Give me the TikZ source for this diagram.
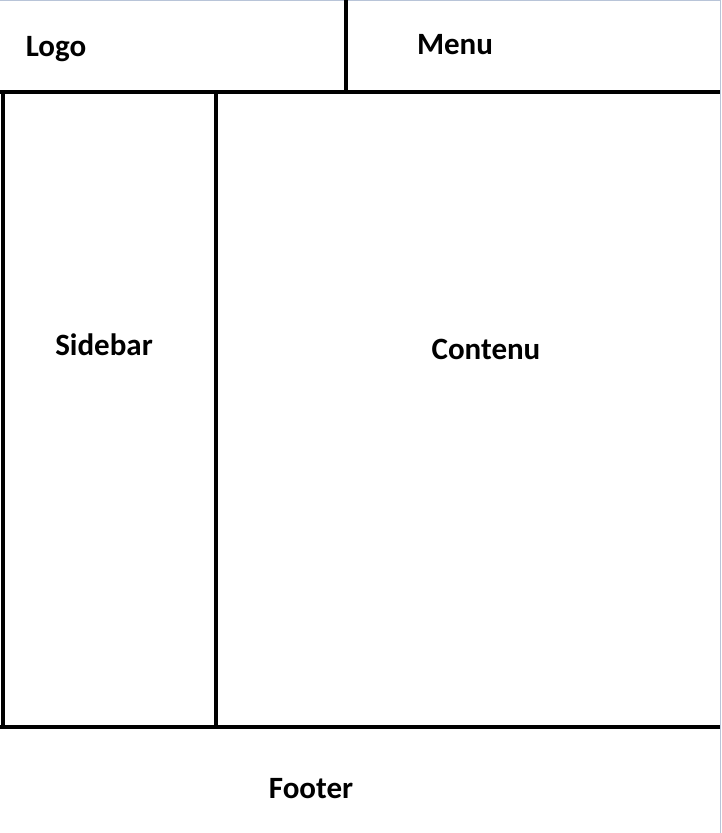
\documentclass[tikz,border=0pt]{standalone}
\usepackage{fontspec}
\setmainfont{Carlito}
\definecolor{framecol}{HTML}{B8C4D8}

\begin{document}
\begin{tikzpicture}[x=1pt, y=-1pt, thick, bar/.style={line width=4.6pt, draw=black}, edge/.style={line width=1.2pt, draw=framecol}, zone label/.style={font=\fontsize{31}{38}\selectfont\bfseries, inner sep=0pt, anchor=base}]
	\useasboundingbox (0,0) rectangle (721,833);
	\fill[white] (0,0) rectangle (721,833);
	\draw[edge] (0,0.6) -- (720.4,0.6) -- (720.4,833);
	\node[zone label] (logo) at (56,56) {Logo};
	\node[zone label] (menu) at (455,54.5) {Menu};
	\node[zone label] (sidebar) at (104,355) {Sidebar};
	\node[zone label] (contenu) at (486,359) {Contenu};
	\node[zone label] (footer) at (311,798.5) {Footer};
	\draw[bar] (346,0) -- (346,92);
	\draw[bar] (0,92) -- (720,92);
	\draw[bar] (3,92) -- (3,727);
	\draw[bar] (216,92) -- (216,727);
	\draw[bar] (0,727) -- (720,727);
\end{tikzpicture}
\end{document}
